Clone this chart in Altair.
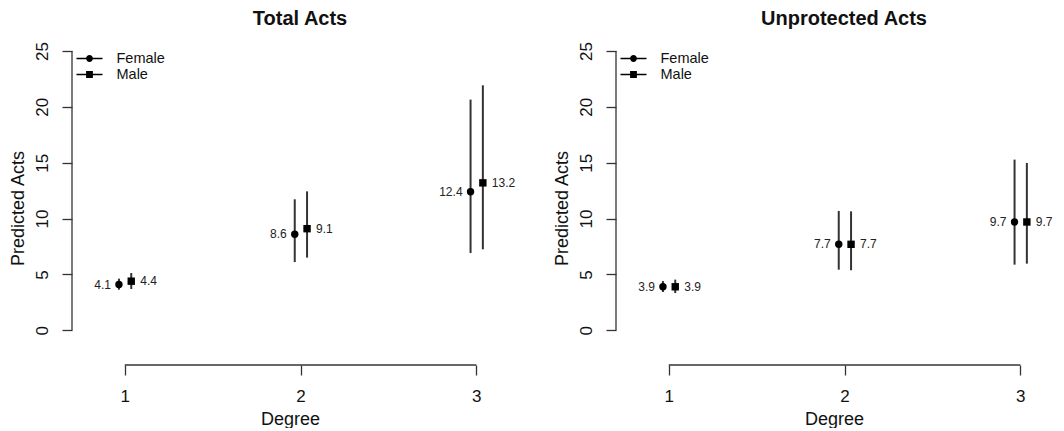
import altair as alt
import pandas as pd

FONT = "Liberation Sans"

degrees = [1, 2, 3]
sexes = ["Female", "Male"]
panel_titles = ["Total Acts", "Unprotected Acts"]
x_ticks = [1, 2, 3]
y_ticks = [0, 5, 10, 15, 20, 25]

# Total Acts
total_f_est = [4.1, 8.6, 12.4]
total_f_lo = [3.64, 6.11, 6.92]
total_f_hi = [4.63, 11.73, 20.65]
total_m_est = [4.4, 9.1, 13.2]
total_m_lo = [3.70, 6.51, 7.25]
total_m_hi = [5.13, 12.44, 21.93]

# Unprotected Acts
unprot_f_est = [3.9, 7.7, 9.7]
unprot_f_lo = [3.43, 5.43, 5.88]
unprot_f_hi = [4.41, 10.68, 15.28]
unprot_m_est = [3.9, 7.7, 9.7]
unprot_m_lo = [3.34, 5.38, 5.97]
unprot_m_hi = [4.54, 10.65, 14.98]


def frame(f_est, f_lo, f_hi, m_est, m_lo, m_hi):
    rows = []
    for sex, est, lo, hi in (("Female", f_est, f_lo, f_hi), ("Male", m_est, m_lo, m_hi)):
        for d, e, l, h in zip(degrees, est, lo, hi):
            rows.append({"degree": d, "sex": sex, "est": e, "lo": l, "hi": h})
    return pd.DataFrame(rows)


PX = 176
XDOM = [0.7, 3.18]
YDOM = [-3.1, 25]
W = round((XDOM[1] - XDOM[0]) * PX)
H = 314

# legend glyphs: short line on each side of the marker, drawn as thin filled bars
LEG_F = ("M-1.53,-0.08L-0.3,-0.08L-0.3,0.08L-1.53,0.08Z "
         "M0.3,-0.08L1.53,-0.08L1.53,0.08L0.3,0.08Z "
         "M0.4,0A0.4,0.4,0,1,1,-0.4,0A0.4,0.4,0,1,1,0.4,0Z")
LEG_M = ("M-1.53,-0.08L-0.4,-0.08L-0.4,0.08L-1.53,0.08Z "
         "M0.4,-0.08L1.53,-0.08L1.53,0.08L0.4,0.08Z "
         "M-0.4,-0.4L0.4,-0.4L0.4,0.4L-0.4,0.4Z")
AXC = "#333333"


def panel(df, title):
    xs = alt.Scale(domain=XDOM, nice=False, zero=False)
    ys = alt.Scale(domain=YDOM, nice=False, zero=False)
    xaxis = alt.Axis(values=x_ticks, title="Degree", format="d")
    yaxis = alt.Axis(values=y_ticks, title="Predicted Acts", format="d")
    base = alt.Chart(df).transform_calculate(
        xpos="datum.degree + (datum.sex == 'Female' ? -0.033 : 0.037)"
    )
    X = alt.X("xpos:Q", scale=xs, axis=xaxis, title="Degree")
    Y = alt.Y("est:Q", scale=ys, axis=yaxis, title="Predicted Acts")

    one = alt.Chart(df).transform_aggregate(n="count()")
    yline = one.mark_rule(color=AXC, strokeWidth=1.3).encode(
        x=alt.value(0),
        y=alt.YDatum(y_ticks[0], type="quantitative", scale=ys, axis=yaxis, title="Predicted Acts"),
        y2=alt.Y2Datum(y_ticks[-1]),
    )
    xline = one.mark_rule(color=AXC, strokeWidth=1.3).encode(
        x=alt.XDatum(x_ticks[0], type="quantitative", scale=xs, axis=xaxis, title="Degree"),
        x2=alt.X2Datum(x_ticks[-1]),
        y=alt.value(H),
    )
    bars = base.mark_rule(color="#333333", strokeWidth=2).encode(
        x=X, y=alt.Y("lo:Q", scale=ys, axis=yaxis, title="Predicted Acts"), y2="hi:Q"
    )
    pts = base.mark_point(filled=True, size=55, color="black", opacity=1).encode(
        x=X, y=Y,
        shape=alt.Shape("sex:N", scale=alt.Scale(domain=sexes, range=["circle", "square"]), legend=None),
    )
    leg = base.transform_filter("false").mark_point(
        filled=True, size=289, color="black"
    ).encode(
        x=X, y=Y,
        shape=alt.Shape(
            "sex:N",
            scale=alt.Scale(domain=sexes, range=[LEG_F, LEG_M]),
            legend=alt.Legend(
                title=None, orient="none", legendX=8, legendY=-2,
                symbolSize=289, symbolFillColor="black", symbolOpacity=1,
                labelFont=FONT, labelFontSize=14.5, labelColor="#111111",
                labelOffset=17.5, rowPadding=0, padding=0, labelBaseline="middle",
            ),
        ),
    )
    lab_f = base.transform_filter("datum.sex == 'Female'").mark_text(
        align="right", dx=-8, fontSize=12, font=FONT, color="#222222", baseline="middle"
    ).encode(x=X, y=Y, text=alt.Text("est:Q", format=".1f"))
    lab_m = base.transform_filter("datum.sex == 'Male'").mark_text(
        align="left", dx=9, fontSize=12, font=FONT, color="#222222", baseline="middle"
    ).encode(x=X, y=Y, text=alt.Text("est:Q", format=".1f"))

    return alt.layer(bars, yline, xline, pts, leg, lab_f, lab_m).resolve_scale(
        shape="independent"
    ).properties(
        width=W, height=H,
        title=alt.TitleParams(title, dx=10, anchor="middle", frame="group", fontSize=20,
                              fontWeight="bold", font=FONT, offset=13, color="#111111"),
    )


left = panel(frame(total_f_est, total_f_lo, total_f_hi, total_m_est, total_m_lo, total_m_hi), panel_titles[0])
right = panel(frame(unprot_f_est, unprot_f_lo, unprot_f_hi, unprot_m_est, unprot_m_lo, unprot_m_hi), panel_titles[1])

chart = alt.hconcat(left, right, spacing=37).resolve_scale(
    shape="independent"
).resolve_legend(shape="independent").properties(
    padding={"left": 1, "top": 0, "right": 0, "bottom": 0}
).configure_view(
    stroke=None
).configure_axis(
    labelFont=FONT, titleFont=FONT, labelColor="#111111", titleColor="#111111",
    labelFontSize=17, titleFontSize=18, titleFontWeight="normal", grid=False,
    domain=False, tickColor=AXC, tickWidth=1.3, tickSize=10,
).configure_axisY(
    labelAngle=-90, labelAlign="center", labelBaseline="alphabetic", labelPadding=15,
    titlePadding=6, titleAngle=270, titleBaseline="bottom",
).configure_axisX(
    labelPadding=13, titlePadding=6,
)

chart.save("out.html", embed_options={"renderer": "svg", "actions": False})
